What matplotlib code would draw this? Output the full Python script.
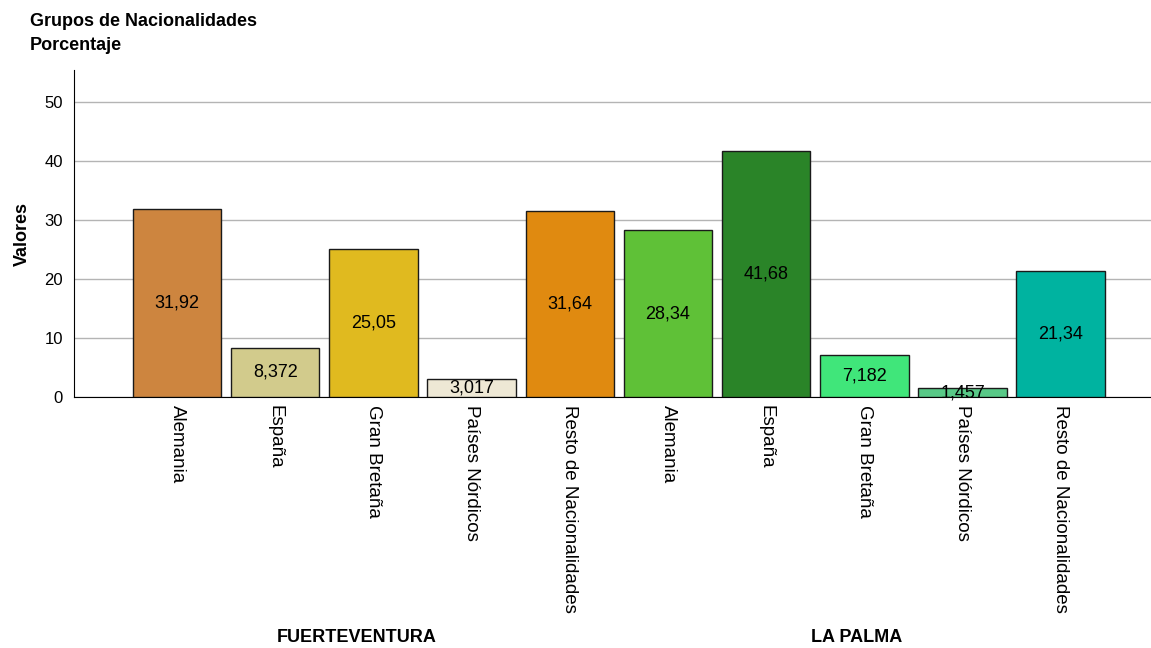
import matplotlib
matplotlib.use('Agg')
import matplotlib.pyplot as plt
import numpy as np

plt.rcParams['font.family'] = ['Liberation Sans', 'DejaVu Sans']

# datos
categorias = ['Alemania', 'España', 'Gran Bretaña', 'Países Nórdicos', 'Resto de Nacionalidades',
              'Alemania', 'España', 'Gran Bretaña', 'Países Nórdicos', 'Resto de Nacionalidades']
islas = ['FUERTEVENTURA', 'LA PALMA']
valores = [31.92, 8.372, 25.05, 3.017, 31.64, 28.34, 41.68, 7.182, 1.457, 21.34]
etiquetas = ['31,92', '8,372', '25,05', '3,017', '31,64', '28,34', '41,68', '7,182', '1,457', '21,34']
colores = ['#CD853F', '#D2CB8C', '#E0BA1F', '#EEE8D5', '#E08A10',
           '#5FC137', '#2A8428', '#40E67A', '#58C987', '#00B3A0']

fig = plt.figure(figsize=(11.51, 6.48), dpi=100)
ax = fig.add_axes([0.0643, 0.3873, 0.9357, 0.5047])

x = np.arange(len(valores))
ax.bar(x, valores, width=0.9, color=colores, edgecolor='#1a1a1a', linewidth=1, zorder=3)
for xi, v, t in zip(x, valores, etiquetas):
    ax.text(xi, v / 2, t, ha='center', va='center', fontsize=13, zorder=4)

ax.set_xlim(-1.05, 9.92)
ax.set_ylim(0, 55.5)
ax.set_yticks([0, 10, 20, 30, 40, 50])
ax.yaxis.grid(True, color='#b4b4b4', linewidth=1, zorder=0)
ax.tick_params(axis='y', length=0, labelsize=12, pad=8)
ax.set_xticks(x)
ax.set_xticklabels(categorias, rotation=270, fontsize=13.5, va='top', ha='center')
ax.tick_params(axis='x', length=0, pad=6)
ax.spines['top'].set_visible(False)
ax.spines['right'].set_visible(False)
ax.spines['left'].set_color('black')
ax.spines['bottom'].set_color('black')
ax.set_ylabel('Valores', fontsize=13, fontweight='bold', labelpad=10)

# etiquetas de grupo
fig.text(357 / 1151, 1 - 637 / 648, islas[0], ha='center', va='center', fontsize=13, fontweight='bold')
fig.text(857 / 1151, 1 - 637 / 648, islas[1], ha='center', va='center', fontsize=13, fontweight='bold')

fig.text(30 / 1151, 1 - 22 / 648, 'Grupos de Nacionalidades', ha='left', va='center', fontsize=13, fontweight='bold')
fig.text(30 / 1151, 1 - 45 / 648, 'Porcentaje', ha='left', va='center', fontsize=13, fontweight='bold')

fig.savefig('out.png', dpi=100)
